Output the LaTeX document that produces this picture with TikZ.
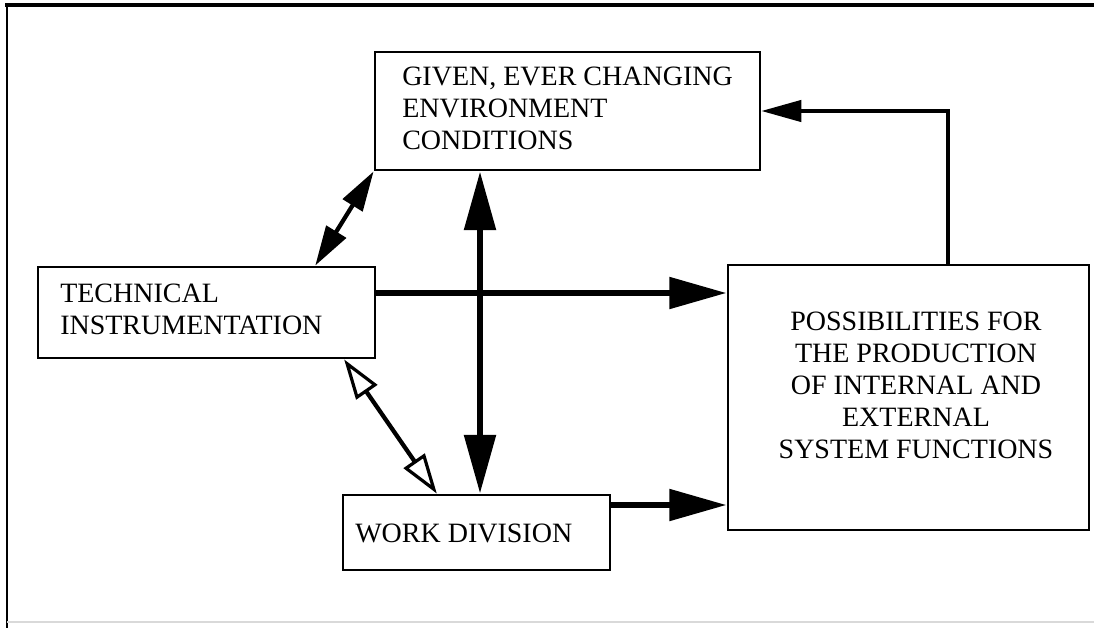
\documentclass[tikz,border=0pt]{standalone}
\usepackage{fontspec}
\setmainfont{Liberation Serif}
\usetikzlibrary{arrows.meta,calc}

\tikzset{
  box/.style={draw, line width=2.1pt, rectangle, inner sep=0pt},
  lbl/.style={inner sep=0pt, font=\fontsize{21}{24}\selectfont},
  thick arrow/.style={line width=4.8pt, -{Triangle[length=43pt,width=23pt]}},
  both thick/.style={line width=4.8pt, {Triangle[length=44pt,width=23pt]}-{Triangle[length=44pt,width=23pt]}},
  both filled/.style={line width=3.2pt, {Triangle[length=30pt,width=17pt]}-{Triangle[length=30pt,width=17pt]}},
  both open/.style={line width=3.2pt, {Triangle[open,length=30pt,width=19pt,line width=2.4pt]}-{Triangle[open,length=30pt,width=19pt,line width=2.4pt]}},
  feedback/.style={line width=2.6pt, -{Triangle[length=30pt,width=16pt]}}
}

\begin{document}
\begin{tikzpicture}[x=0.75pt,y=-0.75pt]
  \useasboundingbox (0,0) rectangle (1094,628);

  % partial page frame
  \draw[line width=2.6pt] (5,5) -- (1094,5);
  \draw[line width=1.8pt] (7,5) -- (7,628);
  \draw[line width=0.8pt, gray!30] (7,622) -- (1094,622);

  % boxes
  \node[box, minimum width=288.75pt, minimum height=88.5pt] (env) at (567.5,111) {};
  \node[box, minimum width=252.75pt, minimum height=68.25pt] (tech) at (206.5,312.5) {};
  \node[box, minimum width=270.75pt, minimum height=198.75pt] (poss) at (908.5,397.5) {};
  \node[box, minimum width=200.25pt, minimum height=56.25pt] (work) at (476.5,532.5) {};

  % box texts
  \node[lbl, align=left, anchor=west] (envtxt) at (402,108)
    {GIVEN, EVER CHANGING\\ENVIRONMENT\\CONDITIONS};
  \node[lbl, align=left, anchor=west] (techtxt) at (60,309.5)
    {TECHNICAL\\INSTRUMENTATION};
  \node[lbl, align=center] (posstxt) at (916,385)
    {POSSIBILITIES FOR\\THE PRODUCTION\\OF INTERNAL AND\\EXTERNAL\\SYSTEM FUNCTIONS};
  \node[lbl, anchor=base west] (worktxt) at (355,542) {WORK DIVISION};

  % guide coordinates for the connectors
  \coordinate (vx) at (480,0);
  \coordinate (hy) at (0,293);
  \coordinate (wy) at (0,505);
  \coordinate (fx) at (948,0);

  % connectors
  \draw[thick arrow] (tech.east |- hy) -- (poss.west |- hy);
  \draw[both thick] (env.south -| vx) -- (work.north -| vx);
  \draw[thick arrow] (work.east |- wy) -- (poss.west |- wy);
  \draw[both filled] (env.south west) -- ($(tech.north west)!0.82!(tech.north east)$);
  \draw[both open] ($(tech.south west)!0.905!(tech.south east)$) -- ($(work.north west)!0.353!(work.north east)$);
  \draw[feedback] (poss.north -| fx) |- (env.east);
\end{tikzpicture}
\end{document}
